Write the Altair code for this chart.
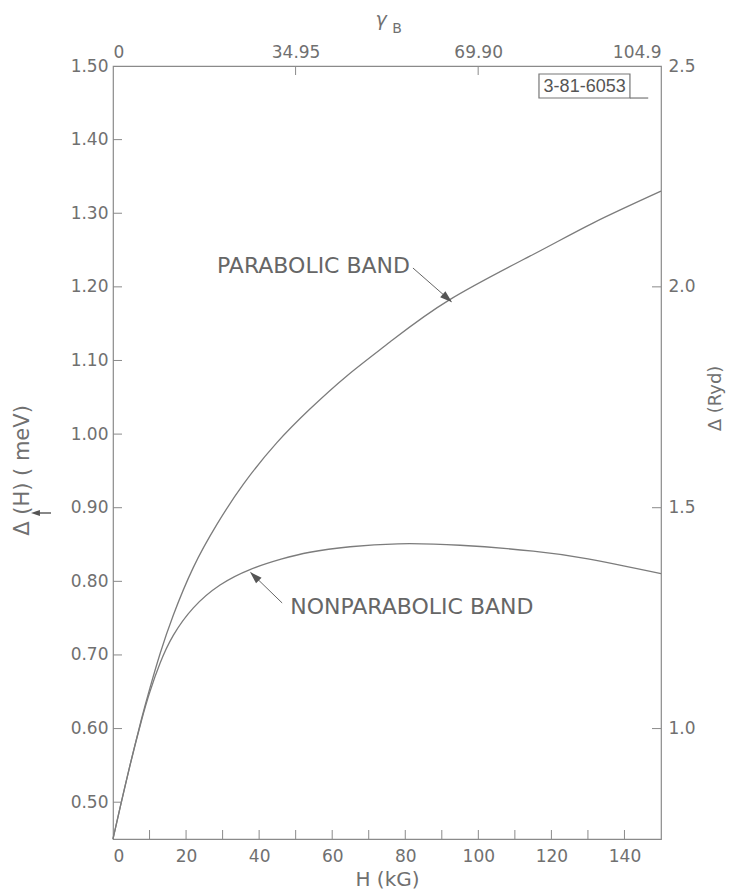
import altair as alt
import pandas as pd

# ---------------- data ----------------
H_PAR = [0, 2, 4.6, 7.8, 10.1, 12.9, 16.5, 22.0, 28.4, 35.7, 44.8, 53.9, 64.0, 75.8, 92.3, 115.0, 131.5, 150.0]
D_PAR = [0.45, 0.494, 0.549, 0.613, 0.655, 0.702, 0.754, 0.819, 0.877, 0.932, 0.988, 1.034, 1.079, 1.125, 1.183, 1.244, 1.287, 1.330]

H_NON = [0, 2, 4.6, 7.8, 10.1, 12.9, 16.5, 22.0, 29.3, 37.5, 46.0, 53.9, 64.9, 78.0, 95.0, 115.0, 130.0, 150.0]
D_NON = [0.45, 0.494, 0.549, 0.611, 0.650, 0.689, 0.7265, 0.764, 0.795, 0.816, 0.830, 0.8395, 0.847, 0.851, 0.849, 0.841, 0.8305, 0.8105]

H_LABELS = [0, 20, 40, 60, 80, 100, 120, 140]
H_MINOR = [10, 20, 30, 40, 50, 60, 70, 80, 90, 100, 110, 120, 130, 140]
D_LABELS = [0.50, 0.60, 0.70, 0.80, 0.90, 1.00, 1.10, 1.20, 1.30, 1.40, 1.50]
D_TICKS = [0.50, 0.60, 0.70, 0.80, 0.90, 1.00, 1.10, 1.20, 1.30, 1.40]
RYD_LABELS = [1.0, 1.5, 2.0, 2.5]
RYD_TICKS = [1.0, 1.5, 2.0]
GAMMA_LABELS = [0, 34.95, 69.90, 104.9]
GAMMA_TICKS = [34.95, 69.90]

# ---------------- style ----------------
W, HT = 548, 773
TICK = 9
FONT = "DejaVu Sans"
LC = "#707070"      # label colour
AX = "#8a8a8a"      # axis / frame colour
LINE = "#7c7c7c"
TXT = "#666666"

xs = alt.Scale(domain=[0, 150], nice=False, zero=False)
ys = alt.Scale(domain=[0.45, 1.5], nice=False, zero=False)
gs = alt.Scale(domain=[0, 104.9], nice=False, zero=False)
rs = alt.Scale(domain=[0.75, 2.5], nice=False, zero=False)

df_lines = pd.DataFrame({
    "H": H_PAR + H_NON,
    "D": D_PAR + D_NON,
    "band": ["parabolic"] * len(H_PAR) + ["nonparabolic"] * len(H_NON),
})

lines = alt.Chart(df_lines).mark_line(color=LINE, strokeWidth=1.3, interpolate="natural").encode(
    x=alt.X("H:Q", scale=xs, axis=alt.Axis(
        orient="bottom", values=H_LABELS, format="d", ticks=False, domain=False, grid=False,
        labelPadding=9, labelFont=FONT, labelFontSize=17, labelColor=LC,
        title="H  (kG)", titleFont=FONT, titleFontSize=20, titleFontWeight="normal", titleColor=LC,
        titleX=W / 2, titleY=46, titleBaseline="alphabetic", titleAlign="center")),
    y=alt.Y("D:Q", scale=ys, axis=alt.Axis(
        orient="left", values=D_LABELS, format=".2f", ticks=False, domain=False, grid=False,
        labelPadding=5, labelFont=FONT, labelFontSize=17, labelColor=LC,
        title="Δ  (H)  ( meV)", titleFont=FONT, titleFontSize=21, titleFontWeight="normal", titleColor=LC,
        titleX=-91, titleY=404, titleAngle=270, titleBaseline="middle", titleAlign="center")),
    detail="band:N",
)

left_ticks = alt.Chart(pd.DataFrame({"D": D_TICKS})).mark_rule(color=AX, strokeWidth=1).encode(
    y=alt.Y("D:Q", scale=ys, axis=None), x=alt.value(0), x2=alt.value(TICK))

bottom_ticks = alt.Chart(pd.DataFrame({"H": H_MINOR})).mark_rule(color=AX, strokeWidth=1).encode(
    x=alt.X("H:Q", scale=xs, axis=None), y=alt.value(HT - TICK), y2=alt.value(HT))

top_axis = alt.Chart(pd.DataFrame({"g": GAMMA_TICKS})).mark_rule(color=AX, strokeWidth=1).encode(
    x=alt.X("g:Q", scale=gs, axis=alt.Axis(
        orient="top", values=GAMMA_LABELS,
        labelExpr="datum.value > 100 ? '104.9' : (datum.value == 0 ? '0' : format(datum.value, '.2f'))",
        labelFlush=True, ticks=False, domain=False, grid=False, labelPadding=5,
        labelFont=FONT, labelFontSize=17, labelColor=LC, title=None)),
    y=alt.value(0), y2=alt.value(TICK))

right_axis = alt.Chart(pd.DataFrame({"R": RYD_TICKS})).mark_rule(color=AX, strokeWidth=1).encode(
    y=alt.Y("R:Q", scale=rs, axis=alt.Axis(
        orient="right", values=RYD_LABELS, format=".1f", ticks=False, domain=False, grid=False,
        labelPadding=7, labelFont=FONT, labelFontSize=17, labelColor=LC,
        title="Δ (Ryd)", titleFont=FONT, titleFontSize=18, titleFontWeight="normal", titleColor=LC,
        titleX=54, titleY=332, titleAngle=270, titleBaseline="middle", titleAlign="center")),
    x=alt.value(W - TICK), x2=alt.value(W))

# ---------------- annotations ----------------
ann_text = pd.DataFrame({
    "H": [81.3, 48.5],
    "D": [1.2277, 0.765],
    "t": ["PARABOLIC BAND", "NONPARABOLIC BAND"],
})
lab_par = alt.Chart(ann_text.iloc[[0]]).mark_text(
    font=FONT, fontSize=22, color=TXT, align="right", baseline="middle").encode(
    x=alt.X("H:Q", scale=xs, axis=None), y=alt.Y("D:Q", scale=ys, axis=None), text="t:N")
lab_non = alt.Chart(ann_text.iloc[[1]]).mark_text(
    font=FONT, fontSize=22, color=TXT, align="left", baseline="middle").encode(
    x=alt.X("H:Q", scale=xs, axis=None), y=alt.Y("D:Q", scale=ys, axis=None), text="t:N")

arrows = pd.DataFrame({
    "H": [82.1, 46.3], "D": [1.2256, 0.7706],
    "H2": [92.6, 37.7], "D2": [1.180, 0.8120],
})
arrow_lines = alt.Chart(arrows).mark_rule(color=TXT, strokeWidth=1).encode(
    x=alt.X("H:Q", scale=xs, axis=None), y=alt.Y("D:Q", scale=ys, axis=None),
    x2="H2:Q", y2="D2:Q")

HEAD = "M0,0L0.65,2L-0.65,2Z"
head_par = alt.Chart(pd.DataFrame({"H": [92.8], "D": [1.179]})).mark_point(
    shape=HEAD, filled=True, size=150, color="#555555", opacity=1, angle=131).encode(
    x=alt.X("H:Q", scale=xs, axis=None), y=alt.Y("D:Q", scale=ys, axis=None))
head_non = alt.Chart(pd.DataFrame({"H": [37.5], "D": [0.8127]})).mark_point(
    shape=HEAD, filled=True, size=150, color="#555555", opacity=1, angle=314).encode(
    x=alt.X("H:Q", scale=xs, axis=None), y=alt.Y("D:Q", scale=ys, axis=None))

box = alt.Chart(pd.DataFrame({"H": [116.6], "H2": [141.5], "D": [1.4565], "D2": [1.4891]})).mark_rect(
    fill=None, fillOpacity=0, stroke="#777777", strokeWidth=1.2).encode(
    x=alt.X("H:Q", scale=xs, axis=None), x2="H2:Q",
    y=alt.Y("D:Q", scale=ys, axis=None), y2="D2:Q")
box_line = alt.Chart(pd.DataFrame({"H": [141.5], "H2": [146.5], "D": [1.4565]})).mark_rule(
    color="#777777", strokeWidth=1.2).encode(
    x=alt.X("H:Q", scale=xs, axis=None), x2="H2:Q", y=alt.Y("D:Q", scale=ys, axis=None))
box_text = alt.Chart(pd.DataFrame({"H": [129.1], "D": [1.4714], "t": ["3-81-6053"]})).mark_text(
    font="Liberation Sans", fontSize=18, color="#555555",
    align="center", baseline="middle").encode(
    x=alt.X("H:Q", scale=xs, axis=None), y=alt.Y("D:Q", scale=ys, axis=None), text="t:N")

gamma = alt.Chart(pd.DataFrame({"t": ["γ"]})).mark_text(
    font=FONT, fontSize=19, color=LC, align="center", baseline="middle", fontStyle="italic").encode(
    x=alt.value(268), y=alt.value(-46), text="t:N")
gamma_sub = alt.Chart(pd.DataFrame({"t": ["B"]})).mark_text(
    font=FONT, fontSize=14, color=LC, align="center", baseline="middle").encode(
    x=alt.value(284), y=alt.value(-37), text="t:N")

# small left-pointing arrow next to the left axis title
left_arrow_line = alt.Chart(pd.DataFrame({"k": [0]})).mark_rule(color="#555555", strokeWidth=1.4).encode(
    x=alt.value(-76), x2=alt.value(-62), y=alt.value(447))
left_arrow_head = alt.Chart(pd.DataFrame({"k": [0]})).mark_point(
    shape=HEAD, filled=True, size=80, color="#555555", opacity=1, angle=270).encode(
    x=alt.value(-82), y=alt.value(447))

chart = alt.layer(
    lines, left_ticks, bottom_ticks, top_axis, right_axis,
    arrow_lines, head_par, head_non, lab_par, lab_non,
    box, box_line, box_text, gamma, gamma_sub, left_arrow_line, left_arrow_head,
).resolve_scale(
    x="independent", y="independent"
).properties(
    width=W, height=HT,
    autosize=alt.AutoSizeParams(type="none"),
    padding={"left": 105, "top": 58, "right": 65, "bottom": 53},
    background="white",
).configure_view(
    stroke=AX, strokeWidth=1.2
)

chart.save("out.html", embed_options={"renderer": "svg", "actions": False})
